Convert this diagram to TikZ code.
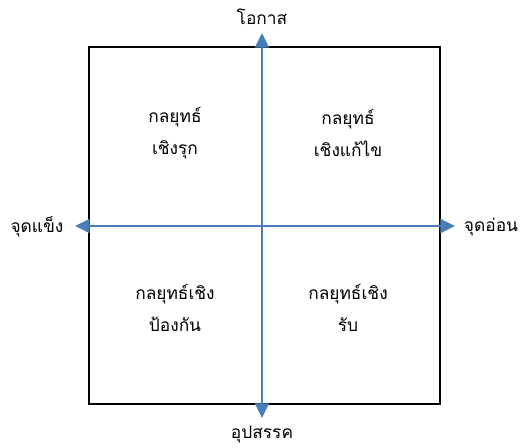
\documentclass[tikz,border=0pt]{standalone}
\usepackage{fontspec}
\newfontfamily\thaifont[Script=Thai]{Loma}
\usetikzlibrary{arrows.meta}
\definecolor{axisblue}{RGB}{74,126,187}
\tikzset{
  axis/.style={draw=axisblue, line width=1.5pt, {Triangle[width=10.5pt,length=11pt]}-{Triangle[width=10.5pt,length=11pt]}},
  quad/.style={align=center, font=\thaifont\fontsize{13}{24.5}\selectfont},
  axlabel/.style={font=\thaifont\fontsize{13}{15}\selectfont}
}
\begin{document}
\begin{tikzpicture}[x=0.75pt, y=-0.75pt]
	\useasboundingbox (0,0) rectangle (525,447);
	% frame
	\draw[line width=1.2pt] (89,47) rectangle (440,404);
	% axes
	\coordinate (top) at (262,33);
	\coordinate (bot) at (262,418);
	\coordinate (lft) at (75,226);
	\coordinate (rgt) at (455,226);
	\draw[axis] (bot) -- (top);
	\draw[axis] (lft) -- (rgt);
	% axis labels
	\node[axlabel] (opp) at (262,17) {โอกาส};
	\node[axlabel] (thr) at (262,434) {อุปสรรค};
	\node[axlabel] (str) at (37,227) {จุดแข็ง};
	\node[axlabel] (weak) at (491,227) {จุดอ่อน};
	% quadrants
	\node[quad] (so) at (175,133) {กลยุทธ์\\เชิงรุก};
	\node[quad] (wo) at (348,133) {กลยุทธ์\\เชิงแก้ไข};
	\node[quad] (st) at (175,308) {กลยุทธ์เชิง\\ป้องกัน};
	\node[quad] (wt) at (348,308) {กลยุทธ์เชิง\\รับ};
\end{tikzpicture}
\end{document}
